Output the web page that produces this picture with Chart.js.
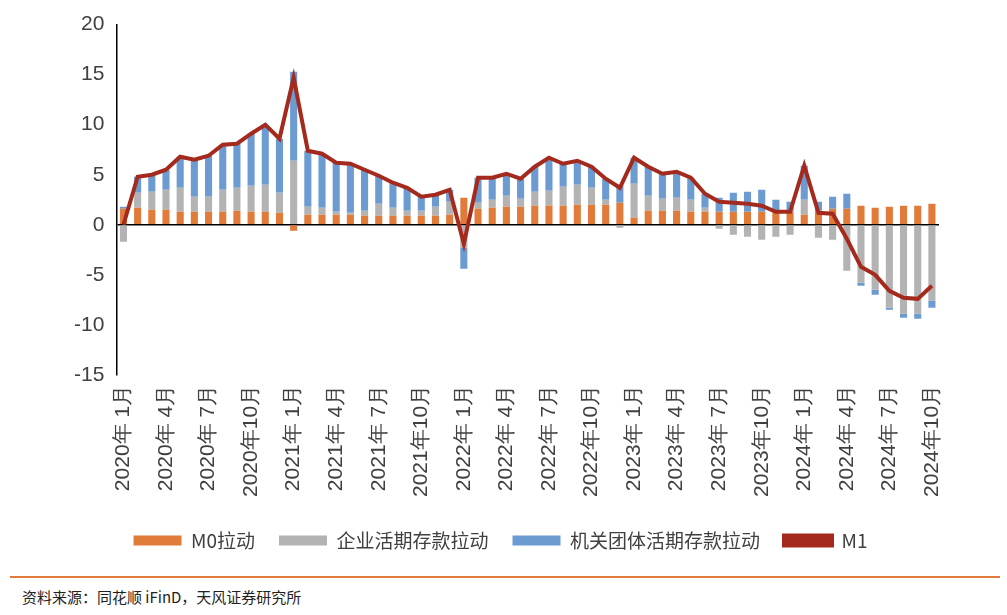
<!DOCTYPE html>
<html><head><meta charset="utf-8">
<script src="https://cdn.jsdelivr.net/npm/chart.js@4"></script>
<style>
body{margin:0;background:#fff;font-family:"Noto Sans CJK SC",sans-serif;}
#wrap{position:absolute;left:0;top:0;width:1007px;height:560px;}
#line{position:absolute;left:10px;top:576px;width:990px;border-top:2px solid #E07B39;}
#src{position:absolute;left:22px;top:586px;font-size:15px;color:#222;}
</style></head><body>
<div id="wrap"><canvas id="c"></canvas></div>
<div id="line"></div>
<div id="src">资料来源：同花顺 iFinD，天风证券研究所</div>
<script>
const categories=[];
for(let y=2020;y<=2024;y++){for(let m=1;m<=12;m++){if(y===2024&&m>10)break;categories.push(y+"年"+(m<10?" ":"")+m+"月");}}
const m0=[1.6,1.7,1.5,1.5,1.3,1.3,1.3,1.3,1.4,1.3,1.3,1.2,
-0.6,1.0,1.0,1.0,1.0,0.9,0.9,0.9,0.9,0.9,0.9,1.0,
2.7,1.6,1.7,1.8,1.8,1.9,1.9,1.9,2.0,2.0,2.0,2.2,
0.7,1.4,1.4,1.4,1.3,1.3,1.3,1.3,1.3,1.3,1.3,1.3,
1.0,1.4,1.6,1.6,1.9,1.7,1.8,1.9,1.9,2.1];
const corp=[-1.7,1.5,1.8,2.0,2.4,1.5,1.5,2.2,2.3,2.6,2.7,2.0,
6.4,0.8,0.7,0.3,0.2,0.5,1.2,0.8,0.5,0.5,0.9,1.3,
-2.3,0.6,0.8,1.1,0.8,1.4,1.5,1.9,2.0,1.7,0.5,-0.3,
3.4,1.5,1.2,1.3,1.2,0.4,-0.4,-1.0,-1.2,-1.5,-1.2,-1.0,
1.5,-1.3,-1.5,-4.6,-5.8,-6.5,-8.3,-8.9,-8.9,-7.6];
const inst=[0.2,1.6,1.7,2.0,3.1,3.7,4.1,4.5,4.4,5.2,6.0,5.4,
8.9,5.6,5.4,4.9,4.9,4.1,2.8,2.5,2.3,1.4,1.2,1.2,
-2.1,2.5,2.2,2.2,2.0,2.5,3.3,2.3,2.4,2.1,2.1,1.8,
2.6,2.9,2.5,2.6,2.2,1.4,1.4,1.9,2.0,2.2,1.2,1.0,
3.4,0.9,1.2,1.5,-0.3,-0.5,-0.2,-0.4,-0.5,-0.7];
const m1=[0,4.8,5.0,5.5,6.8,6.5,6.9,8.0,8.1,9.1,10.0,8.6,
14.7,7.4,7.1,6.2,6.1,5.5,4.9,4.2,3.7,2.8,3.0,3.5,
-1.9,4.7,4.7,5.1,4.6,5.8,6.7,6.1,6.4,5.8,4.6,3.7,
6.7,5.8,5.1,5.3,4.7,3.1,2.3,2.2,2.1,1.9,1.3,1.3,
5.9,1.2,1.1,-1.4,-4.2,-5.0,-6.6,-7.3,-7.4,-6.1];
const txt="#404040";
new Chart(document.getElementById('c'),{
 data:{labels:categories,datasets:[
  {type:'line',label:'M1',data:m1,borderColor:'#A52A1E',backgroundColor:'#A52A1E',borderWidth:4,pointRadius:0,order:0,tension:0},
  {type:'bar',label:'M0拉动',data:m0,backgroundColor:'#E07B39',order:1,barPercentage:0.5,categoryPercentage:1},
  {type:'bar',label:'企业活期存款拉动',data:corp,backgroundColor:'#B3B3B3',order:1,barPercentage:0.5,categoryPercentage:1},
  {type:'bar',label:'机关团体活期存款拉动',data:inst,backgroundColor:'#6C9BD2',order:1,barPercentage:0.5,categoryPercentage:1}
 ]},
 options:{responsive:true,maintainAspectRatio:false,animation:false,
  layout:{padding:{left:62,right:68,top:5,bottom:0}},
  plugins:{legend:{position:'bottom',labels:{color:txt,font:{size:19,family:'"Noto Sans CJK SC"'},boxWidth:48,boxHeight:10,padding:24,
     sort:(a,b)=>{const o={'M0拉动':0,'企业活期存款拉动':1,'机关团体活期存款拉动':2,'M1':3};return o[a.text]-o[b.text];}}},
   tooltip:{enabled:false}},
  scales:{
   x:{stacked:true,grid:{drawOnChartArea:false,drawTicks:false,color:'#000'},border:{display:false},
     ticks:{autoSkip:false,maxRotation:90,minRotation:90,color:txt,font:{size:21},padding:10,
       callback:function(v,i){return i%3===0?categories[i]:'';}}},
   y:{stacked:true,min:-15,max:20,grid:{color:c=>c.tick.value===0?'#000':'transparent',lineWidth:1.5,drawTicks:false},
     border:{color:'#000',width:1.5},ticks:{stepSize:5,color:txt,font:{size:21},padding:12}}
  }}
});
</script></body></html>
